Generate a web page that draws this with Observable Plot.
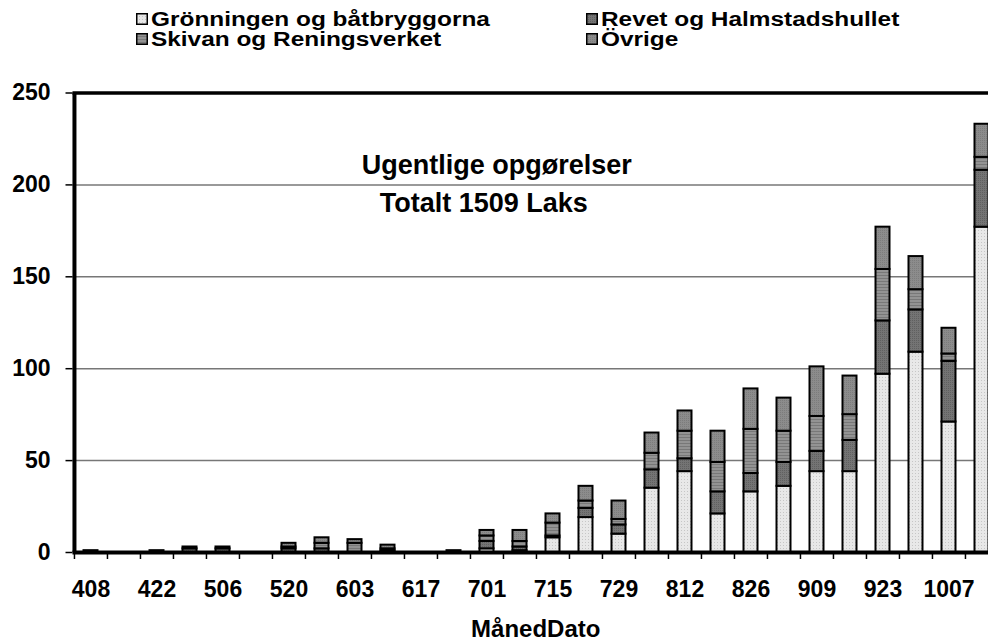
<!DOCTYPE html>
<html>
<head>
<meta charset="utf-8">
<script src="https://cdn.jsdelivr.net/npm/d3@7"></script>
<script src="https://cdn.jsdelivr.net/npm/@observablehq/plot@0.6"></script>
<style>
  html, body { margin: 0; padding: 0; background: #fff; overflow: hidden; }
  body { width: 988px; height: 641px; font-family: "Liberation Sans", Arial, sans-serif; font-weight: bold; color: #000; }
  #legend { position: relative; height: 56px; width: 988px; }
  .item { position: absolute; display: flex; align-items: center; height: 20px; font-size: 20px; line-height: 20px; white-space: nowrap; }
  .item svg { margin-right: 3px; flex: none; }
  .item span { display: inline-block; transform: scaleX(1.22); transform-origin: left center; }
  #chart svg.plot { max-width: none; overflow: hidden; display: block; }
</style>
</head>
<body>
<svg width="0" height="0" style="position:absolute">
  <defs>
    <pattern id="pG" width="3" height="3" patternUnits="userSpaceOnUse">
      <rect width="3" height="3" fill="#e8e8e8"/><rect width="1" height="1" fill="#c6c6c6"/>
    </pattern>
    <pattern id="pR" width="2" height="2" patternUnits="userSpaceOnUse">
      <rect width="2" height="2" fill="#747474"/><rect width="1" height="1" fill="#606060"/>
    </pattern>
    <pattern id="pS" width="4" height="3" patternUnits="userSpaceOnUse">
      <rect width="4" height="3" fill="#939393"/><rect width="4" height="1" fill="#787878"/>
    </pattern>
    <pattern id="pO" width="2" height="2" patternUnits="userSpaceOnUse">
      <rect width="2" height="2" fill="#8c8c8c"/><rect width="1" height="1" fill="#7c7c7c"/>
    </pattern>
  </defs>
</svg>
<div id="legend"></div>
<div id="chart"></div>
<script>
// ---- data ----
const dates = ["408","415","422","429","506","513","520","527","603","610","617","624",
               "701","708","715","722","729","805","812","819","826","902","909","916",
               "923","930","1007","1014"];
const xTickLabels = ["408","422","506","520","603","617","701","715","729","812","826","909","923","1007"];
const yTicks = [0, 50, 100, 150, 200, 250];
const gridTicks = [50, 100, 150, 200];

const series = ["Grönningen og båtbryggorna", "Revet og Halmstadshullet", "Skivan og Reningsverket", "Övrige"];
const gronningen = [0,0,0,0,0,0,0,0,0,0,0,0, 2,1,8,19,10,35,44,21,33,36,44,44, 97,109,71,177];
const revet      = [1,0,1,2,2,0,2,2,0,1,0,1, 4,2,1,5,5,10,7,12,10,13,11,17, 29,23,33,31];
const skivan     = [0,0,0,0,0,0,1,3,5,1,0,0, 3,3,7,4,3,9,15,16,24,17,19,14, 28,11,4,7];
const ovrige     = [0,0,0,1,1,0,2,3,2,2,0,0, 3,6,5,8,10,11,11,17,22,18,27,21, 23,18,14,18];

const xTitle = "MånedDato";
const note1 = "Ugentlige opgørelser";
const note2 = "Totalt 1509 Laks";

const fills = ["url(#pG)", "url(#pR)", "url(#pS)", "url(#pO)"];

// ---- table ----
const seriesValues = [gronningen, revet, skivan, ovrige];
const table = [];
series.forEach((s, k) => dates.forEach((d, i) => table.push({series: s, date: d, value: seriesValues[k][i]})));

// ---- layout ----
const xRange = [72.5, 998.7];
const bw = (xRange[1] - xRange[0]) / dates.length;
const font = "'Liberation Sans', Arial, sans-serif";

// ---- legend ----
const legendPos = [
  {left: 136, top: 9}, {left: 586, top: 9},
  {left: 136, top: 29}, {left: 586, top: 29}
];
const legend = document.getElementById("legend");
series.forEach((s, k) => {
  const el = document.createElement("div");
  el.className = "item";
  el.style.left = legendPos[k].left + "px";
  el.style.top = legendPos[k].top + "px";
  el.innerHTML = `<svg width="12" height="12"><rect x="0.75" y="0.75" width="10.5" height="10.5" fill="${fills[k]}" stroke="#000" stroke-width="1.5"/></svg><span>${s}</span>`;
  legend.appendChild(el);
});

// ---- chart ----
const chart = Plot.plot({
  width: 988,
  height: 585,
  marginTop: 36.5,
  marginBottom: 89,
  marginLeft: 72.5,
  marginRight: 0,
  style: {fontFamily: font, fontWeight: "bold", fontSize: "23px", color: "#000", background: "#fff", overflow: "hidden"},
  x: {type: "band", domain: dates, range: xRange, padding: 0, axis: null},
  y: {domain: [0, 250], axis: null},
  color: {domain: series, range: fills},
  marks: [
    Plot.ruleY(gridTicks, {stroke: "#777", strokeWidth: 1.5}),
    Plot.barY(table, {x: "date", y: "value", fill: "series", stroke: "#000", strokeWidth: 2, insetLeft: 9.5, insetRight: 9.5}),
    Plot.ruleY([0], {stroke: "#000", strokeWidth: 4}),
    Plot.ruleY([250], {stroke: "#000", strokeWidth: 3.5}),
    Plot.ruleX([dates[0]], {dx: -bw / 2, stroke: "#000", strokeWidth: 4}),
    Plot.axisY({ticks: yTicks, tickSize: 7, tickPadding: 15.5, label: null, strokeWidth: 1.5, fontSize: 23}),
    Plot.axisX({ticks: dates, tickSize: 7, tickFormat: () => "", dx: -bw / 2, label: null, strokeWidth: 1.5}),
    Plot.axisX({ticks: xTickLabels, tickSize: 0, tickPadding: 28, label: null, fontSize: 23}),
    Plot.text([xTitle], {text: d => d, frameAnchor: "bottom", dx: 5, dy: 77, lineAnchor: "middle", fontSize: 24, fontWeight: "bold"}),
    Plot.text([note1], {text: d => d, frameAnchor: "top", dx: -34, dy: 72.5, lineAnchor: "middle", fontSize: 27, fontWeight: "bold"}),
    Plot.text([note2], {text: d => d, frameAnchor: "top", dx: -47, dy: 110.5, lineAnchor: "middle", fontSize: 27, fontWeight: "bold"})
  ]
});
document.getElementById("chart").appendChild(chart);
</script>
</body>
</html>
